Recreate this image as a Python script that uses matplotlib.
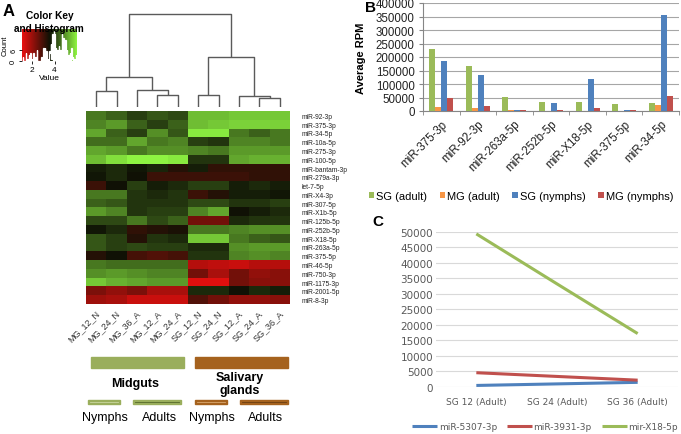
import numpy as np
import matplotlib
matplotlib.use('Agg')
import matplotlib.pyplot as plt
from matplotlib.colors import LinearSegmentedColormap, Normalize
from matplotlib.patches import Rectangle
from matplotlib.transforms import ScaledTranslation

plt.rcParams['font.family'] = ['Liberation Sans', 'DejaVu Sans']

# ---------------- data ----------------
heat_rows = ['miR-92-3p', 'miR-375-3p', 'miR-34-5p', 'miR-10a-5p', 'miR-275-3p',
             'miR-100-5p', 'miR-bantam-3p', 'miR-279a-3p', 'let-7-5p', 'miR-X4-3p',
             'miR-307-5p', 'miR-X1b-5p', 'miR-125b-5p', 'miR-252b-5p', 'miR-X18-5p',
             'miR-263a-5p', 'miR-375-5p', 'miR-46-5p', 'miR-750-3p', 'miR-1175-3p',
             'miR-2001-5p', 'miR-8-3p']
heat_cols = ['MG_12_N', 'MG_24_N', 'MG_36_A', 'MG_12_A', 'MG_24_A',
             'SG_12_N', 'SG_24_N', 'SG_12_A', 'SG_24_A', 'SG_36_A']
heat_values = [
    [4.65, 4.41, 4.04, 4.29, 4.16, 5.39, 5.39, 5.51, 5.51, 5.51],
    [4.78, 5.02, 4.41, 4.04, 4.41, 5.39, 5.51, 5.63, 5.63, 5.60],
    [5.14, 4.41, 4.04, 4.90, 4.29, 5.88, 5.88, 4.65, 4.41, 4.65],
    [4.53, 4.53, 5.14, 4.65, 4.78, 4.04, 3.92, 4.78, 4.78, 4.65],
    [5.14, 5.02, 4.65, 4.90, 4.90, 4.78, 4.65, 5.02, 5.02, 5.02],
    [5.39, 5.76, 6.00, 6.00, 5.88, 3.92, 3.92, 5.14, 5.27, 5.27],
    [3.67, 3.80, 3.60, 3.75, 3.31, 3.67, 3.18, 3.18, 3.18, 3.18],
    [3.60, 3.80, 3.55, 3.06, 3.06, 3.06, 3.06, 3.06, 3.18, 3.18],
    [3.06, 3.55, 4.04, 3.67, 3.80, 4.04, 4.04, 3.67, 3.80, 3.67],
    [4.65, 4.65, 3.92, 3.80, 3.92, 3.06, 3.31, 3.67, 3.67, 3.60],
    [4.41, 4.29, 3.92, 3.92, 3.92, 4.16, 4.16, 3.92, 3.92, 4.04],
    [5.02, 4.78, 3.92, 4.04, 4.04, 4.78, 5.14, 3.55, 3.67, 3.80],
    [4.16, 4.16, 4.65, 4.16, 4.41, 2.45, 2.45, 3.80, 3.92, 3.92],
    [3.60, 3.80, 3.18, 3.31, 3.43, 4.65, 4.65, 4.78, 4.90, 4.90],
    [4.29, 4.04, 3.31, 3.92, 3.80, 5.51, 5.51, 4.65, 4.41, 4.29],
    [4.29, 4.04, 4.16, 4.04, 4.04, 3.80, 3.80, 4.90, 5.02, 5.02],
    [3.31, 3.55, 2.94, 2.82, 2.94, 3.92, 3.92, 4.78, 4.90, 4.78],
    [4.65, 4.53, 4.53, 4.53, 4.53, 1.71, 1.59, 1.47, 1.71, 1.71],
    [4.90, 5.02, 4.90, 4.78, 4.78, 2.45, 1.84, 2.45, 2.08, 2.20],
    [5.51, 5.27, 5.14, 5.02, 5.02, 1.22, 1.22, 2.45, 2.20, 2.20],
    [2.33, 2.08, 2.33, 1.84, 1.84, 3.80, 3.80, 3.55, 3.80, 3.67],
    [1.96, 1.84, 1.47, 1.47, 1.47, 2.82, 2.45, 2.08, 2.08, 2.20],
]
value_range = (1.1, 6.0)
# dendrogram links: [node a, node b, height]; leaves 0..9, new nodes 10..
dendro_links = [[0, 1, 16], [3, 4, 12], [2, 11, 17], [10, 12, 30],
                [8, 9, 9], [5, 6, 12], [7, 14, 11], [15, 16, 50], [13, 17, 93]]

b_cats = ['miR-375-3p', 'miR-92-3p', 'miR-263a-5p', 'miR-252b-5p',
          'miR-X18-5p', 'miR-375-5p', 'miR-34-5p']
b_series = ['SG (adult)', 'MG (adult)', 'SG (nymphs)', 'MG (nymphs)']
b_sg_adult = [230000, 168000, 52000, 35000, 35000, 26000, 30000]
b_mg_adult = [15000, 12000, 5000, 1500, 1000, 1000, 22000]
b_sg_nymphs = [186000, 132000, 4000, 30000, 118000, 2000, 355000]
b_mg_nymphs = [48000, 20000, 4000, 2000, 12000, 2000, 57000]
b_ticks = list(range(0, 400001, 50000))

c_x = ['SG 12 (Adult)', 'SG 24 (Adult)', 'SG 36 (Adult)']
c_series = ['miR-5307-3p', 'miR-3931-3p', 'mir-X18-5p']
c_5307 = [500, 1000, 1500]
c_3931 = [4600, 3400, 2200]
c_x18 = [49300, 33200, 17200]
c_ticks = list(range(0, 50001, 5000))

# ---------------- figure ----------------
W, H, DPI = 681, 435, 100
fig = plt.figure(figsize=(W / DPI, H / DPI), dpi=DPI)


def rect(x0, y0, x1, y1):
    return [x0 / W, 1 - y1 / H, (x1 - x0) / W, (y1 - y0) / H]


cmap = LinearSegmentedColormap.from_list(
    'rg', [(0.92, 0.06, 0.06), (0.06, 0.07, 0.02), (0.56, 0.96, 0.26)])
norm = Normalize(*value_range)
data = np.array(heat_values)

# heatmap
axh = fig.add_axes(rect(86, 112, 290, 305))
axh.imshow(data, cmap=cmap, norm=norm, aspect='auto', interpolation='nearest')
axh.set_xticks(range(len(heat_cols)))
axh.set_xticklabels(heat_cols, rotation=45, ha='right', va='center',
                    rotation_mode='anchor', fontsize=6.5, color='#333333')
axh.set_yticks(range(len(heat_rows)))
axh.set_yticklabels(heat_rows, fontsize=4.8, color='#222222')
axh.yaxis.tick_right()
axh.tick_params(axis='y', length=0, pad=8)
axh.tick_params(axis='x', length=0, pad=5)
for lab in axh.get_xticklabels():
    lab.set_transform(lab.get_transform() + ScaledTranslation(2 / DPI, 0, fig.dpi_scale_trans))
for s in axh.spines.values():
    s.set_visible(False)

# dendrogram
axd = fig.add_axes(rect(86, 12, 290, 108))
axd.set_xlim(-0.5, len(heat_cols) - 0.5)
axd.set_ylim(0, 96)
nodes = {i: (float(i), 0.0) for i in range(len(heat_cols))}
nid = len(heat_cols)
for a, b, h in dendro_links:
    xa, ha_ = nodes[a]
    xb, hb = nodes[b]
    axd.plot([xa, xa, xb, xb], [ha_, h, h, hb], color='#5a5a5a', lw=1.0,
             solid_capstyle='butt')
    nodes[nid] = ((xa + xb) / 2, h)
    nid += 1
axd.axis('off')

# colour key
axk = fig.add_axes(rect(22, 30, 77, 62))
grad = np.linspace(value_range[0], value_range[1], 256)[None, :]
axk.imshow(grad, cmap=cmap, norm=norm, aspect='auto',
           extent=[value_range[0], value_range[1], 0, 1])
counts, edges = np.histogram(data.ravel(), bins=np.linspace(value_range[0], value_range[1], 76))
ax2 = axk.twinx()
ax2.stairs(counts, edges, color='white', lw=0.9)
ymax = counts.max() * 1.05
ax2.set_ylim(0, ymax)
ax2.axis('off')
axk.set_xlim(*value_range)
axk.set_ylim(0, 1)
axk.set_xticks([2, 4])
axk.set_xticklabels(['2', '4'], fontsize=6)
axk.set_yticks([0, 6 / ymax])
axk.set_yticklabels(['0', '6'], fontsize=5.5, rotation=90, va='center')
axk.tick_params(length=2, pad=1.5, width=0.6)
axk.set_xlabel('Value', fontsize=6, labelpad=1)
axk.set_ylabel('Count', fontsize=5.5, labelpad=1)
for s in axk.spines.values():
    s.set_visible(False)

# ---------------- panel B ----------------
axb = fig.add_axes(rect(423, 4, 679, 112))
bx = np.arange(len(b_cats)) + 0.5
bw = 0.165
bcolors = ['#9bbb59', '#f79646', '#4f81bd', '#c0504d']
bvals = [b_sg_adult, b_mg_adult, b_sg_nymphs, b_mg_nymphs]
bhandles = []
for j, (vals, col) in enumerate(zip(bvals, bcolors)):
    bars = axb.bar(bx + (j - 1.5) * bw, vals, width=bw, color=col,
                   label=b_series[j], zorder=3)
    bhandles.append(bars)
axb.set_xlim(0, len(b_cats))
axb.set_ylim(0, 400000)
axb.set_yticks(b_ticks)
axb.set_yticklabels([str(t) for t in b_ticks], fontsize=8.3, color='#222222')
axb.grid(axis='y', color='#a6a6a6', lw=0.8, zorder=0)
axb.set_axisbelow(True)
axb.set_xticks(bx)
axb.set_xticklabels(b_cats, rotation=45, ha='right', va='center',
                    rotation_mode='anchor', fontsize=8.3, color='#222222')
axb.set_xticks(np.arange(len(b_cats) + 1), minor=True)
axb.tick_params(axis='x', which='major', length=0, pad=8)
axb.tick_params(axis='x', which='minor', length=3, color='#868686')
axb.tick_params(axis='y', length=3, color='#868686', pad=3)
for lab in axb.get_xticklabels():
    lab.set_transform(lab.get_transform() + ScaledTranslation(4 / DPI, 0, fig.dpi_scale_trans))
for side in ['top', 'right']:
    axb.spines[side].set_visible(False)
for side in ['left', 'bottom']:
    axb.spines[side].set_color('#868686')
axb.set_ylabel('Average RPM', fontsize=8, fontweight='bold')
axb.yaxis.set_label_coords((366 - 423) / 256, 0.5)
fig.legend(handles=bhandles, labels=b_series, loc='center',
           bbox_to_anchor=(521 / W, 1 - 197 / H), ncol=4, frameon=False,
           fontsize=8, handlelength=0.5, handleheight=0.5,
           handletextpad=0.2, columnspacing=1.1, borderaxespad=0, borderpad=0)

# ---------------- panel C ----------------
axc = fig.add_axes(rect(436, 232.7, 678, 388))
cx = np.arange(len(c_x))
ccolors = ['#4f81bd', '#c0504d', '#9bbb59']
chandles = []
for vals, col, name in zip([c_5307, c_3931, c_x18], ccolors, c_series):
    ln, = axc.plot(cx, vals, color=col, lw=2.2, label=name, zorder=3,
                   solid_capstyle='butt')
    chandles.append(ln)
axc.set_xlim(-0.5, len(c_x) - 0.5)
axc.set_ylim(0, 50000)
axc.set_yticks(c_ticks)
axc.set_yticklabels([str(t) for t in c_ticks], fontsize=7.5,
                    color='#595959', family='DejaVu Sans')
axc.set_xticks(cx)
axc.set_xticklabels(c_x, fontsize=6.5, color='#595959', family='DejaVu Sans')
axc.tick_params(axis='both', length=0)
axc.tick_params(axis='y', pad=2)
axc.tick_params(axis='x', pad=7)
axc.grid(axis='y', color='#d9d9d9', lw=0.8, zorder=0)
for s in axc.spines.values():
    s.set_visible(False)
legc = fig.legend(handles=chandles, loc='center',
                  bbox_to_anchor=(545 / W, 1 - 428 / H), ncol=3, frameon=False,
                  prop={'family': 'DejaVu Sans', 'size': 6.5},
                  handlelength=2.8, handletextpad=0.15, columnspacing=1.1,
                  borderaxespad=0, borderpad=0)
for t in legc.get_texts():
    t.set_color('#595959')

# ---------------- overlay: labels and group bars ----------------
ov = fig.add_axes([0, 0, 1, 1], facecolor='none')
ov.set_xlim(0, W)
ov.set_ylim(H, 0)
ov.axis('off')
ov.text(9, 12, 'A', fontsize=12, fontweight='bold', ha='center', va='center')
ov.text(371, 8, 'B', fontsize=11, fontweight='bold', ha='center', va='center')
ov.text(378, 222, 'C', fontsize=11, fontweight='bold', ha='center', va='center')
ov.text(50, 16, 'Color Key', fontsize=7.3, fontweight='bold', ha='center', va='center')
ov.text(49, 29, 'and Histogram', fontsize=7.2, fontweight='bold', ha='center', va='center')

mg_col, sg_col = '#9aae5c', '#a5621e'
ov.add_patch(Rectangle((91, 358), 93, 11, color=mg_col))
ov.add_patch(Rectangle((195, 358), 93, 11, color=sg_col))
ov.text(135, 384, 'Midguts', fontsize=9, fontweight='bold', ha='center', va='center')
ov.text(240, 378, 'Salivary', fontsize=9, fontweight='bold', ha='center', va='center')
ov.text(240, 391, 'glands', fontsize=9, fontweight='bold', ha='center', va='center')
small = [(88, 120, mg_col, '#c9d6a0'), (133, 181, mg_col, '#55692a'),
         (195, 227, sg_col, '#d9a870'), (240, 288, sg_col, '#6b3d10')]
for x0, x1, c, inner in small:
    ov.add_patch(Rectangle((x0, 400.5), x1 - x0, 4.5, color=c))
    ov.plot([x0 + 2, x1 - 2], [402.8, 402.8], color=inner, lw=0.6)
for x, t in [(105, 'Nymphs'), (159.5, 'Adults'), (211.5, 'Nymphs'), (265.5, 'Adults')]:
    ov.text(x, 418, t, fontsize=9, ha='center', va='center')

fig.savefig('out.png', dpi=DPI)
